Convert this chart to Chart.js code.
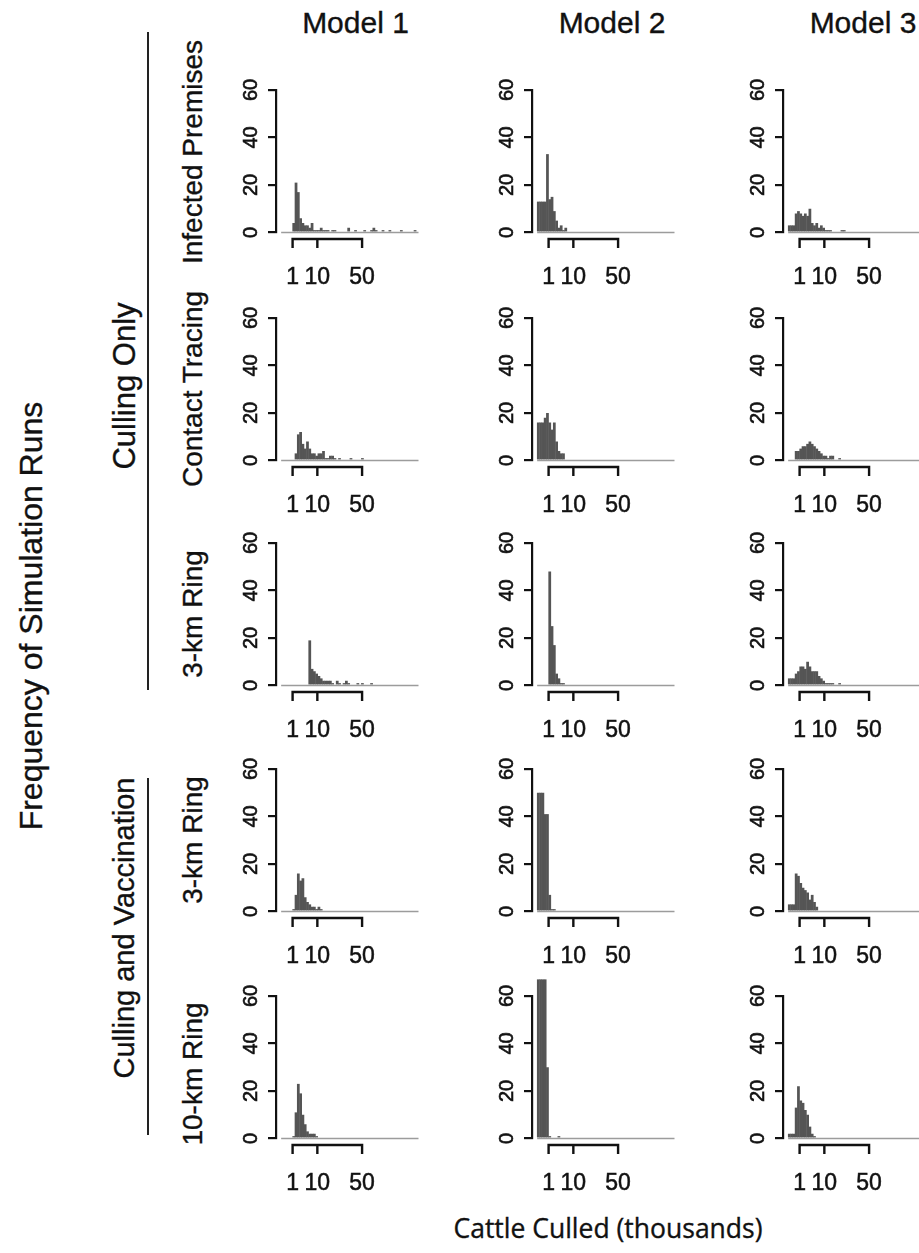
<!DOCTYPE html>
<html>
<head>
<meta charset="utf-8">
<script src="https://cdn.jsdelivr.net/npm/chart.js@4.4.1/dist/chart.umd.min.js"></script>
<style>
  html, body { margin: 0; padding: 0; background: #fff; overflow: hidden; }
  #page { position: relative; width: 919px; height: 1253px; overflow: hidden; }
  canvas.panel { position: absolute; }
  .lbl { position: absolute; white-space: nowrap; font-family: "Liberation Sans", Arial, sans-serif;
         color: #111; line-height: 1; transform: translate(-50%, -50%); -webkit-text-stroke: 0.35px #111; }
  .vline { position: absolute; width: 2.5px; background: #222; }
</style>
</head>
<body>
<div id="page"></div>
<script>
// Histogram bins are 0.2 wide on the sqrt(thousands of cattle) axis, starting at 0
const binWidth = 0.2;
const binCount = 60;
const xTickLabels = [1, 10, 50];
const yTickLabels = [0, 20, 40, 60];

const modelNames = ['Model 1', 'Model 2', 'Model 3'];
const strategyNames = ['Infected Premises', 'Contact Tracing', '3-km Ring', '3-km Ring', '10-km Ring'];
const groupNames = ['Culling Only', 'Culling and Vaccination'];

// Culling only: infected premises
const ipModel1 = [0,0,0,0,0,4,21,17,6,4,3,3,2,4,1,1,1,2,1,1,1,0,1,1,0,0,0,0,0,2,0,0,1,0,0,0,1,0,0,1,2,1,0,0,1,0,0,1,0,0,0,0,1,0,0,0,0,0,1,0];
const ipModel2 = [13,13,13,13,33,14,15,9,5,2,3,1,2];
const ipModel3 = [3,3,3,8,9,8,7,8,7,10,4,3,4,2,3,2,1,1,1,0,0,0,0,1,1];
// Culling only: contact tracing
const ctModel1 = [0,0,0,0,0,0,3,11,12,7,5,8,5,3,3,2,3,3,4,1,1,2,2,1,0,1,0,0,0,0,1,0,0,0,0,1];
const ctModel2 = [16,16,16,18,20,16,13,16,8,4,3,3];
const ctModel3 = [0,0,0,4,4,5,6,6,7,8,7,6,5,4,3,2,2,1,2,2,0,0,1];
// Culling only: 3-km ring
const rcModel1 = [0,0,0,0,0,0,0,0,0,0,0,0,19,7,6,5,4,3,2,2,2,2,1,0,2,1,0,1,2,1,0,0,0,1,0,1,0,0,0,1];
const rcModel2 = [0,0,0,0,0,48,25,17,5,3,1,1];
const rcModel3 = [3,3,3,5,6,8,8,7,10,8,6,6,6,4,3,2,1,1,1,1,0,0,1];
// Culling and vaccination: 3-km ring
const rvModel1 = [0,0,0,0,0,1,7,16,13,14,6,4,3,2,2,1,2,1];
const rvModel2 = [50,50,50,41,41,7,1,1];
const rvModel3 = [3,3,3,16,15,12,10,9,8,5,7,4,2];
// Culling and vaccination: 10-km ring
const tvModel1 = [0,0,0,0,0,1,11,23,19,10,6,3,2,2,2,1];
const tvModel2 = [67,67,67,67,30,1,0,0,0,1];
const tvModel3 = [2,2,2,13,22,16,15,12,10,5,2,1];

const panelRows = [
  [ipModel1, ipModel2, ipModel3],
  [ctModel1, ctModel2, ctModel3],
  [rcModel1, rcModel2, rcModel3],
  [rvModel1, rvModel2, rvModel3],
  [tvModel1, tvModel2, tvModel3]
];

// layout (page pixels): y-axis line of each column, zero line of each row
const colX = [275.5, 532, 783];
const rowY = [232.3, 460, 685.7, 911.7, 1138];
const CW = 210, CH = 226, AXW = 55, AXH = 61.5, PADT = 22, PADR = 12.5;
const FONT = '"Liberation Sans", Arial, sans-serif';

const page = document.getElementById('page');

// R style x axis: line from first to last tick, dropped below the bars
const rAxis = {
  id: 'rAxis',
  afterDraw(chart) {
    const xs = chart.scales.x;
    const ctx = chart.ctx;
    const y0 = chart.chartArea.bottom + 6.5;
    const px = xs.ticks.map(t => xs.getPixelForValue(t.value));
    ctx.save();
    ctx.strokeStyle = '#111';
    ctx.lineWidth = 2.4;
    ctx.beginPath();
    ctx.moveTo(px[0] - 1.2, y0);
    ctx.lineTo(px[px.length - 1] + 1.2, y0);
    px.forEach(p => { ctx.moveTo(p, y0); ctx.lineTo(p, y0 + 9); });
    ctx.stroke();
    ctx.restore();
  }
};

function makePanel(counts, left, top) {
  const canvas = document.createElement('canvas');
  canvas.className = 'panel';
  canvas.width = CW;
  canvas.height = CH;
  canvas.style.left = left + 'px';
  canvas.style.top = top + 'px';
  page.appendChild(canvas);

  const bars = counts.map((c, i) => ({ x: (i + 0.5) * binWidth, y: c }));
  const baseline = [{ x: 0, y: 0 }, { x: binCount * binWidth, y: 0 }];

  new Chart(canvas, {
    type: 'bar',
    data: {
      datasets: [
        { type: 'bar', data: bars, backgroundColor: '#555555', borderWidth: 0,
          barPercentage: 1.2, categoryPercentage: 1, clip: false, order: 1 },
        { type: 'line', data: baseline, borderColor: '#9c9c9c', borderWidth: 1.5,
          pointRadius: 0, clip: false, order: 2 }
      ]
    },
    options: {
      responsive: false,
      animation: false,
      devicePixelRatio: 1,
      layout: { padding: { left: 0, right: PADR, top: PADT, bottom: 0 } },
      plugins: { legend: { display: false }, tooltip: { enabled: false } },
      scales: {
        x: {
          type: 'linear', min: -0.45, max: 12, offset: false,
          afterBuildTicks: s => { s.ticks = xTickLabels.map(v => ({ value: Math.sqrt(v) })); },
          afterFit: s => { s.height = AXH; },
          grid: { display: false, drawTicks: false },
          border: { display: false },
          ticks: {
            autoSkip: false, maxRotation: 0, padding: 31, color: '#111',
            textStrokeWidth: 0.5, textStrokeColor: '#111',
            font: { family: FONT, size: 23 },
            callback: (v, i) => String(xTickLabels[i])
          }
        },
        y: {
          min: 0, max: 60,
          afterBuildTicks: s => { s.ticks = yTickLabels.map(v => ({ value: v })); },
          afterFit: s => { s.width = AXW; },
          grid: { drawOnChartArea: false, tickLength: 8, color: '#111', lineWidth: 2.2 },
          border: { color: '#111', width: 2.2 },
          ticks: {
            minRotation: 90, maxRotation: 90, crossAlign: 'center', padding: 5,
            textStrokeWidth: 0.6, textStrokeColor: '#111',
            color: '#111', font: { family: FONT, size: 20 }
          }
        }
      }
    },
    plugins: [rAxis]
  });
}

panelRows.forEach((row, r) => {
  row.forEach((counts, c) => {
    makePanel(counts, colX[c] - AXW, rowY[r] - (CH - AXH));
  });
});

function addText(text, x, y, size, opts) {
  opts = opts || {};
  const d = document.createElement('div');
  d.className = 'lbl';
  d.textContent = text;
  d.style.left = x + 'px';
  d.style.top = y + 'px';
  d.style.fontSize = size + 'px';
  if (opts.family) d.style.fontFamily = opts.family;
  let t = 'translate(-50%, -50%)';
  if (opts.rotate) t += ' rotate(-90deg)';
  d.style.transform = t;
  page.appendChild(d);
}

function addLine(x, y1, y2) {
  const d = document.createElement('div');
  d.className = 'vline';
  d.style.left = (x - 1.25) + 'px';
  d.style.top = y1 + 'px';
  d.style.height = (y2 - y1) + 'px';
  page.appendChild(d);
}

// column titles
modelNames.forEach((m, c) => addText(m, colX[c] + 80, 23, 30));

// strategy labels per row
const strategyCentres = [152, 389, 614, 840, 1074];
strategyNames.forEach((s, r) => addText(s, 193, strategyCentres[r], 28, { rotate: true }));

// groups
addText(groupNames[0], 124, 386, 31, { rotate: true });
addText(groupNames[1], 124, 928, 29, { rotate: true });
addLine(148, 32, 690);
addLine(148, 778, 1135);

// axis titles
addText('Frequency of Simulation Runs', 31, 616, 32, { rotate: true });
addText('Cattle Culled (thousands)', 608, 1228, 26.5, { family: '"Open Sans", sans-serif' });
</script>
</body>
</html>
